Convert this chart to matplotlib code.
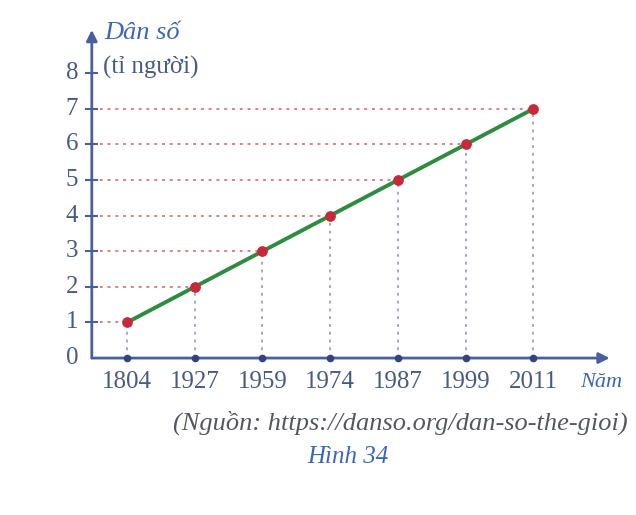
import matplotlib.pyplot as plt

# Data
years = ['1804', '1927', '1959', '1974', '1987', '1999', '2011']
population = [1, 2, 3, 4, 5, 6, 7]
y_ticks = [0, 1, 2, 3, 4, 5, 6, 7, 8]

axis_col = '#4a5f9e'
text_col = '#4a5a82'
label_col = '#3d66b8'

plt.rcParams['font.family'] = ['Liberation Serif', 'DejaVu Serif']

fig = plt.figure(figsize=(6.36, 5.15), dpi=100)
ax = fig.add_axes([0, 0, 1, 1])
# limits chosen so category i sits at 127 + 67.7*i px and one unit of y is 35.6 px
ax.set_xlim(-1.876, 7.518)
ax.set_ylim(-4.41, 10.06)
ax.axis('off')

xs = list(range(len(years)))
x0 = -0.52  # position of y axis

# guide lines
for x, y in zip(xs, population):
    ax.plot([x0, x], [y, y], color='#d98088', lw=1.4, ls=(0, (1.5, 2.5)), zorder=1)
    ax.plot([x, x], [0, y], color='#a3aabf', lw=1.4, ls=(0, (1.5, 2.5)), zorder=1)

# axes with arrows
ax.annotate('', xy=(7.13, 0), xytext=(x0, 0),
            arrowprops=dict(arrowstyle='-|>', color=axis_col, lw=2, mutation_scale=16,
                            shrinkA=0, shrinkB=0))
ax.annotate('', xy=(x0, 9.22), xytext=(x0, 0),
            arrowprops=dict(arrowstyle='-|>', color=axis_col, lw=2, mutation_scale=16,
                            shrinkA=0, shrinkB=0))

# y ticks and labels
for t in y_ticks:
    if t > 0:
        ax.plot([x0 - 0.08, x0 + 0.08], [t, t], color=axis_col, lw=1.5, zorder=3)
    ax.text(x0 - 0.2, t, str(t), ha='right', va='center', fontsize=18,
            color=text_col)

# x ticks and labels
ax.scatter(xs, [0] * len(xs), s=20, color='#34447a', zorder=4)
for x, lab in zip(xs, years):
    ax.text(x, -0.68, lab, ha='center', va='center', fontsize=18, color=text_col)

# data line
ax.plot(xs, population, color='#2e8b3f', lw=2.8, zorder=5)
ax.scatter(xs, population, s=45, color='#c8283c', zorder=6)

# axis titles
ax.text(-0.33, 9.13, 'Dân số', ha='left', va='center', fontsize=19,
        style='italic', color=label_col)
ax.text(-0.35, 8.17, '(tỉ người)', ha='left', va='center', fontsize=18,
        color=text_col)
ax.text(7.0, -0.68, 'Năm', ha='center', va='center', fontsize=16,
        style='italic', color=label_col)

# source and caption
ax.text(7.40, -1.82, '(Nguồn: https://danso.org/dan-so-the-gioi)', ha='right',
        va='center', fontsize=19, style='italic', color='#55575f')
ax.text(3.26, -2.78, 'Hình 34', ha='center', va='center', fontsize=18,
        style='italic', color=label_col)

fig.savefig('out.png', dpi=100)
